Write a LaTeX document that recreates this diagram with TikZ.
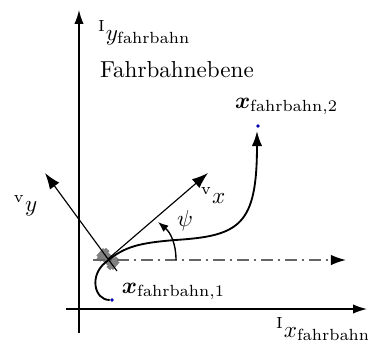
\documentclass[tikz,border=0pt]{standalone}
\usepackage{amsmath}
\usepackage{bm}
\usetikzlibrary{arrows.meta}
\begin{document}
\begin{tikzpicture}[x=0.433pt,y=-0.433pt,
  axis/.style={line width=0.6pt,-{Latex[length=6pt,width=4pt]}},
  vaxis/.style={line width=0.5pt,-{Latex[length=7pt,width=5pt]}},
  refline/.style={line width=0.7pt,draw=black!60,dash pattern=on 5pt off 2.2pt on 1pt off 2.2pt,-{Latex[length=6.5pt,width=4.5pt,color=black]}},
  traj/.style={line width=0.8pt,-{Latex[length=6.5pt,width=4.5pt]}},
  anglearc/.style={line width=0.6pt,-{Latex[length=4.5pt,width=3.5pt]}},
  lbl/.style={inner sep=0pt,outer sep=0pt},
  pt/.style={circle,fill=blue!70!black,inner sep=0pt,minimum size=1.6pt},
  carbody/.style={fill=black!50,draw=none}]
\useasboundingbox (0,0) rectangle (368,345);
% coordinates
\coordinate (Ybot) at (79,333);
\coordinate (Ytip) at (79,10);
\coordinate (Xleft) at (66,309);
\coordinate (Xtip) at (367,309);
\coordinate (V) at (108,259);
\coordinate (vxTip) at (208,173);
\coordinate (vyTip) at (45,173);
\coordinate (vyEnd) at (117,271);
\coordinate (Rstart) at (93,260);
\coordinate (Rtip) at (346,260);
\coordinate (Astart) at (176,260);
\coordinate (Aend) at (158,222);
\coordinate (Tend) at (257,131);
% vehicle
\begin{scope}[shift={(V)},rotate=-41]
  \fill[carbody] (-11,-5) rectangle (11,5);
  \fill[carbody] (-9,-7) rectangle (-4,7);
  \fill[carbody] (4,-7) rectangle (9,7);
\end{scope}
% axes
\draw[axis] (Ybot) -- (Ytip);
\draw[axis] (Xleft) -- (Xtip);
% reference line
\draw[refline] (Rstart) -- (Rtip);
% vehicle axes
\draw[vaxis] (V) -- (vxTip);
\draw[line width=0.5pt] (vyEnd) -- (V);
\draw[vaxis] (V) -- (vyTip);
% points
\node[pt] (P1) at (112,300) {};
\node[pt] (P2) at (258,126) {};
% trajectory
\draw[traj] (P1.west) .. controls (94,300) and (89,275) .. (106,262)
  .. controls (125,246) and (140,243) .. (175,240)
  .. controls (240,236) and (257,225) .. (Tend);
% angle
\draw[anglearc] (Astart) to[out=90,in=-40] (Aend);
% labels
\node[lbl,anchor=base west] (lIy) at (98,40) {$^{\mathrm{I}}y_{\mathrm{fahrbahn}}$};
\node[lbl,anchor=base west] (lPlane) at (100,77) {Fahrbahnebene};
\node[lbl,anchor=base west] (lx2) at (235,108) {$\bm{x}_{\mathrm{fahrbahn},2}$};
\node[lbl,anchor=base west] (lx1) at (122,293) {$\bm{x}_{\mathrm{fahrbahn},1}$};
\node[lbl,anchor=base west] (lIx) at (276,337) {$^{\mathrm{I}}x_{\mathrm{fahrbahn}}$};
\node[lbl,anchor=base west] (lvx) at (201,203) {$^{\mathrm{v}}x$};
\node[lbl,anchor=base west] (lvy) at (14,211) {$^{\mathrm{v}}y$};
\node[lbl] (lpsi) at (185,221) {$\psi$};
\end{tikzpicture}
\end{document}
